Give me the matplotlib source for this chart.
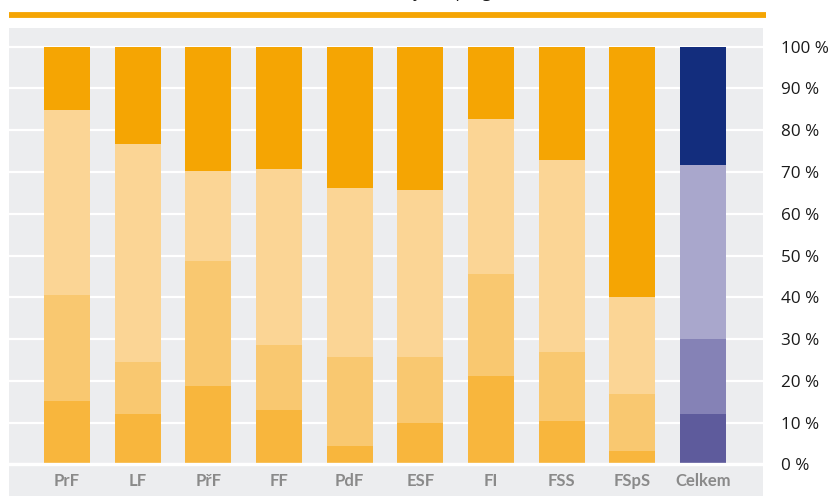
import numpy as np
import matplotlib.pyplot as plt

# faculties + total
categories = ['PrF', 'LF', 'PřF', 'FF', 'PdF', 'ESF', 'FI', 'FSS', 'FSpS', 'Celkem']

# segment shares in %, bottom -> top
seg1 = [15.2, 12.1, 18.8, 13.0, 4.4, 9.9, 21.2, 10.4, 3.2, 12.1]
seg2 = [25.4, 12.4, 29.9, 15.6, 21.3, 15.8, 24.4, 16.5, 13.7, 17.9]
seg3 = [44.2, 52.2, 21.5, 42.1, 40.4, 39.9, 37.1, 45.9, 23.2, 41.7]
seg4 = [15.2, 23.3, 29.8, 29.3, 33.9, 34.4, 17.3, 27.2, 59.9, 28.3]

yticks = [0, 10, 20, 30, 40, 50, 60, 70, 80, 90, 100]
ytick_labels = ['%d %%' % v for v in yticks]

orange = ['#f8b63d', '#f9c870', '#fbd595', '#f5a503']
purple = ['#5e5b9c', '#8582b6', '#a9a7cc', '#132d7d']

fig = plt.figure(figsize=(8.35, 4.96), dpi=100)
ax = fig.add_axes([9/835, 0, 754/835, 468/496])
ax.set_facecolor('#ecedef')

x = np.arange(len(categories))
segs = np.array([seg1, seg2, seg3, seg4])
bottom = np.zeros(len(categories))
for i in range(4):
    cols = [orange[i]]*(len(categories)-1) + [purple[i]]
    ax.bar(x, segs[i], width=0.651, bottom=bottom, color=cols, zorder=3)
    bottom += segs[i]

for v in yticks:
    ax.axhline(v, color='white', lw=1.6, zorder=2)
ax.axhline(0, color='white', lw=2.4, zorder=4)

ax.set_xlim(-0.82, 9.85)
ax.set_ylim(-7.54, 104.43)
ax.set_xticks([])
ax.yaxis.tick_right()
ax.set_yticks(yticks)
ax.set_yticklabels(ytick_labels, fontsize=12.3, color='#1a1a1a', family='Open Sans')
ax.tick_params(axis='y', length=0, pad=13)
for lab in ax.get_yticklabels():
    lab.set_horizontalalignment('left')
for s in ax.spines.values():
    s.set_visible(False)

for xi, c in zip(x, categories):
    ax.text(xi, -3.9, c, ha='center', va='center', fontsize=12, fontweight='bold',
            color='#8a8a8a', family='Lato')

# orange rule under the (cropped) title
fig.add_artist(plt.Line2D([9/835, 766/835], [1 - 14.8/496, 1 - 14.8/496],
                          color='#f5a503', lw=4.2, solid_capstyle='butt'))
fig.text(0.5, 1 + 2.5/496, 'Studenti ve studijních programech', ha='center',
         va='baseline', fontsize=12, color='#1a1a1a', family='Open Sans')

fig.savefig('out.png', dpi=100)
